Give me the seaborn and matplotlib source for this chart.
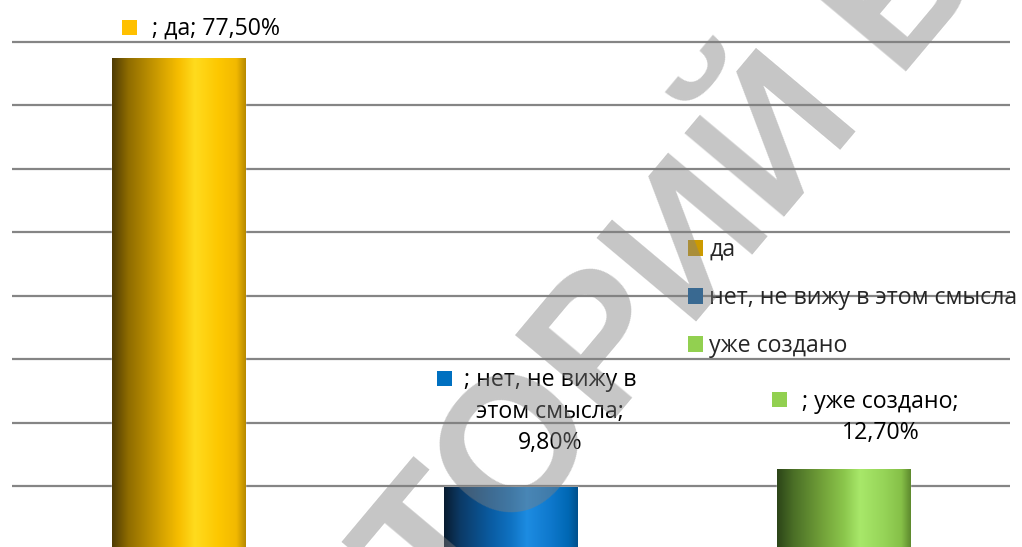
import numpy as np
import pandas as pd
import matplotlib
matplotlib.use("Agg")
import matplotlib.pyplot as plt
import seaborn as sns
from matplotlib.colors import LinearSegmentedColormap
from matplotlib.patches import Patch
from matplotlib.transforms import ScaledTranslation

# ---- data ----
categories = ["да", "нет, не вижу в этом смысла", "уже создано"]
values = [77.5, 9.8, 12.7]
label_lines = [
    ["; да; 77,50%"],
    ["; нет, не вижу в", "этом смысла;", "9,80%"],
    ["; уже создано;", "12,70%"],
]
grid_ticks = [10, 20, 30, 40, 50, 60, 70, 80]

# ---- style ----
key_colors = ["#ffc000", "#0070c0", "#92d050"]
legend_colors = ["#cc9a00", "#0058a0", "#92d050"]
gradients = [
    ["#4f3c05", "#8f6c00", "#cf9e00", "#f7be00", "#ffdb1e", "#fdc700", "#f2b900", "#b88a00"],
    ["#081c30", "#0c3a66", "#0a5ca2", "#0f72c2", "#1d8ce2", "#0e78cc", "#0068b4", "#00508c"],
    ["#2c4518", "#4a6e26", "#74a43a", "#8bc64c", "#a8e86a", "#96d458", "#86c048", "#5e8a2e"],
]
grad_pos = [0, 0.12, 0.35, 0.5, 0.62, 0.8, 0.93, 1.0]

W, H = 1022, 547
sns.set_style("white")
plt.rcParams["font.family"] = ["Open Sans", "DejaVu Sans"]
FS = 16.7

fig = plt.figure(figsize=(W / 100, H / 100), dpi=100)
fig.patch.set_facecolor("white")
ax = fig.add_axes([12 / W, 0, 998 / W, 1])

df = pd.DataFrame({"cat": categories, "val": values})
sns.barplot(data=df, x="cat", y="val", hue="cat", palette=key_colors,
            width=0.4, legend=False, ax=ax, saturation=1, zorder=2)

# cylinder-like horizontal gradient on each bar
for p, stops in zip(ax.patches, gradients):
    x0, y0, w, h = p.get_x(), p.get_y(), p.get_width(), p.get_height()
    cmap = LinearSegmentedColormap.from_list("g", list(zip(grad_pos, stops)))
    grad = np.linspace(0, 1, 256).reshape(1, -1)
    im = ax.imshow(grad, cmap=cmap, extent=[x0, x0 + w, y0, y0 + h],
                   aspect="auto", zorder=2.5, interpolation="bilinear")
    im.set_clip_path(p)

ax.set_xlim(-0.5, 2.5)
ax.set_ylim(0.39, 86.57)
ax.set_yticks(grid_ticks)
ax.yaxis.grid(True, color="#858585", linewidth=1.6)
ax.xaxis.grid(False)
ax.set_axisbelow(True)
ax.tick_params(left=False, bottom=False, labelleft=False, labelbottom=False)
ax.set_xlabel("")
ax.set_ylabel("")
for s in ax.spines.values():
    s.set_visible(False)
ax.set_facecolor("none")


def off(dx, dy):
    return ax.transData + ScaledTranslation(dx / 100, dy / 100, fig.dpi_scale_trans)


# data labels (offsets in pixels relative to bar top centre)
text_dx = [38, 39, 37]
line_dy = [[29], [107, 75, 44], [67, 36]]
key_d = [(-49.5, 30.5), (-67.5, 109), (-64.5, 69.5)]
for i, (v, lines) in enumerate(zip(values, label_lines)):
    for line, dy in zip(lines, line_dy[i]):
        ax.text(i, v, line, transform=off(text_dx[i], dy), ha="center",
                va="center", fontsize=FS, color="#000000", zorder=5)
    kx, ky = key_d[i]
    ax.plot([i], [v], marker="s", ms=10.8, mew=0, color=key_colors[i],
            transform=off(kx, ky), clip_on=False, zorder=5)

# legend
handles = [Patch(facecolor=c, edgecolor="none") for c in legend_colors]
fig.legend(handles, categories, loc="upper left",
           bbox_to_anchor=(688 / W, 1 - 238 / H), bbox_transform=fig.transFigure,
           frameon=False, borderpad=0, borderaxespad=0, handlelength=0.64,
           handleheight=0.64, handletextpad=0.28, labelspacing=1.04, fontsize=FS)

# watermark
wm_kw = dict(rotation=50, rotation_mode="anchor", va="baseline",
             fontsize=137, fontweight="bold", family=["Liberation Sans", "DejaVu Sans"],
             color="#808080", alpha=0.45, zorder=10)
fig.text(440 / W, 1 - 627 / H, "ТОРИЙ БГПУ", ha="left", **wm_kw)
fig.text(440 / W, 1 - 627 / H, "РЕПОЗИ", ha="right", **wm_kw)

fig.savefig("out.png", dpi=100, facecolor="white")
